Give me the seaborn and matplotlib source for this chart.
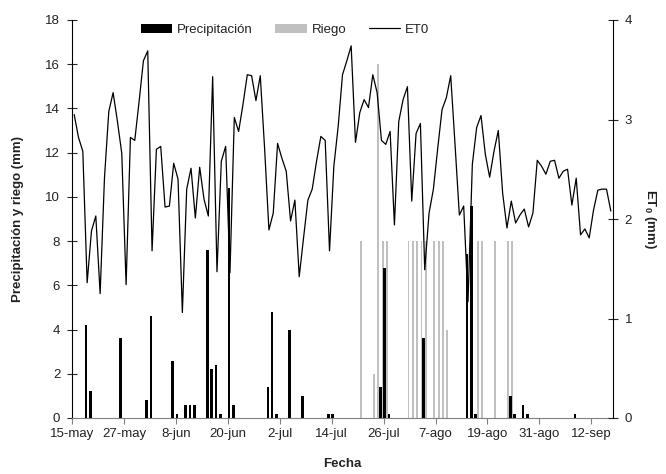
import numpy as np
import matplotlib.pyplot as plt
import seaborn as sns

# ET0 diaria (mm), 15-may a 16-sep
et0 = [3.05, 2.82, 2.68, 1.36, 1.88, 2.03, 1.25, 2.41, 3.08, 3.27,
       2.98, 2.66, 1.34, 2.82, 2.79, 3.18, 3.59, 3.69, 1.68, 2.70,
       2.73, 2.12, 2.13, 2.56, 2.40, 1.06, 2.30, 2.51, 2.01, 2.52,
       2.20, 2.03, 3.43, 1.47, 2.58, 2.73, 1.46, 3.02, 2.88, 3.15,
       3.45, 3.44, 3.19, 3.44, 2.71, 1.89, 2.06, 2.76, 2.61, 2.48,
       1.98, 2.19, 1.42, 1.81, 2.19, 2.30, 2.58, 2.83, 2.79, 1.68,
       2.53, 2.93, 3.45, 3.59, 3.74, 2.77, 3.07, 3.20, 3.12, 3.45,
       3.27, 2.79, 2.75, 2.88, 1.94, 2.98, 3.20, 3.33, 2.18, 2.86,
       2.96, 1.49, 2.06, 2.30, 2.71, 3.10, 3.22, 3.44, 2.75, 2.04,
       2.13, 1.17, 2.55, 2.92, 3.04, 2.65, 2.42, 2.68, 2.89, 2.26,
       1.91, 2.18, 1.96, 2.04, 2.10, 1.92, 2.06, 2.59, 2.53, 2.45,
       2.58, 2.59, 2.41, 2.48, 2.50, 2.14, 2.41, 1.84, 1.90, 1.81,
       2.09, 2.29, 2.30, 2.30, 2.08]

# precipitacion (dia desde 15-may, mm)
precip_days = [3, 4, 11, 17, 18, 23, 24, 26, 27, 28, 31, 32, 33, 34, 36, 37,
               45, 46, 47, 50, 53, 59, 60, 71, 72, 73, 81, 91, 92, 93, 101,
               102, 104, 105, 116]
precip_mm = [4.2, 1.2, 3.6, 0.8, 4.6, 2.6, 0.2, 0.6, 0.6, 0.6, 7.6, 2.2, 2.4,
             0.2, 10.4, 0.6, 1.4, 4.8, 0.2, 4.0, 1.0, 0.2, 0.2, 1.4, 6.8, 0.2,
             3.6, 7.4, 9.6, 0.2, 1.0, 0.2, 0.6, 0.2, 0.2]

# riego (dia desde 15-may, mm)
riego_days = [66, 69, 70, 71, 72, 77, 78, 79, 80, 81, 83, 84, 85, 86, 93, 94,
              97, 100, 101]
riego_mm = [8, 2, 16, 8, 8, 8, 8, 8, 8, 8, 8, 8, 8, 4, 8, 8, 8, 8, 8]

tick_labels = ["15-may", "27-may", "8-jun", "20-jun", "2-jul", "14-jul",
               "26-jul", "7-ago", "19-ago", "31-ago", "12-sep"]

sns.set_style("ticks")
plt.rcParams["font.family"] = ["Liberation Sans", "DejaVu Sans"]
plt.rcParams["mathtext.fontset"] = "custom"
plt.rcParams["mathtext.bf"] = "Liberation Sans:bold"
plt.rcParams["mathtext.rm"] = "Liberation Sans"

fs = 9.5
txt = "#222222"

fig = plt.figure(figsize=(6.66, 4.74), dpi=100)
ax = fig.add_axes([72 / 666, 1 - 418 / 474, 541 / 666, 398 / 474])
ax2 = ax.twinx()

ax.bar(np.array(precip_days) + 0.25, precip_mm, width=0.6, color="black",
       linewidth=0, label="Precipitación", zorder=3)
ax.bar(np.array(riego_days) + 0.75, riego_mm, width=0.45, color="#c0c0c0",
       linewidth=0, label="Riego", zorder=2)

sns.lineplot(x=np.arange(len(et0)) + 0.5, y=et0, ax=ax2, color="black",
             linewidth=0.9, label="ET0")
ax2.get_legend().remove()

ax.set_xlim(0, 125)
ax.set_ylim(0, 18)
ax2.set_ylim(0, 4)
ax.set_yticks(range(0, 19, 2))
ax2.set_yticks(range(0, 5))
ax.set_xticks(range(0, 121, 12))
ax.set_xticklabels(tick_labels)

for a in (ax, ax2):
    a.spines["top"].set_visible(False)
ax.spines["bottom"].set_color("#808080")
ax2.spines["bottom"].set_visible(False)
ax.spines["left"].set_color("black")
ax2.spines["right"].set_color("black")
ax2.spines["left"].set_visible(False)
ax.spines["right"].set_visible(False)

ax.tick_params(axis="y", direction="inout", length=7, width=0.8,
               labelsize=fs, labelcolor=txt, pad=5)
ax2.tick_params(axis="y", direction="inout", length=7, width=0.8,
                labelsize=fs, labelcolor=txt, pad=5)
ax.tick_params(axis="x", direction="out", length=4, width=0.8,
               color="#808080", labelsize=fs, labelcolor=txt, pad=3)

ax.set_xlabel("Fecha", fontsize=fs, fontweight="bold", color=txt)
ax.set_ylabel("Precipitación y riego (mm)", fontsize=fs, fontweight="bold",
              color=txt)
ax2.set_ylabel(r"ET$_\mathbf{0}$ (mm)", fontsize=fs, fontweight="bold",
               color=txt, rotation=270)
ax.xaxis.set_label_coords(0.5, -0.1)
ax.yaxis.set_label_coords(-0.089, 0.5)
ax2.yaxis.set_label_coords(1.083, 0.5)

h1, l1 = ax.get_legend_handles_labels()
h2, l2 = ax2.get_legend_handles_labels()
fig.legend(h1 + h2, l1 + l2, loc="center", ncol=3, frameon=False,
           bbox_to_anchor=(285 / 666, 1 - 30 / 474), fontsize=fs,
           handlelength=2.4, handletextpad=0.35, columnspacing=1.7,
           labelcolor=txt)

fig.savefig("out.png", dpi=100)
